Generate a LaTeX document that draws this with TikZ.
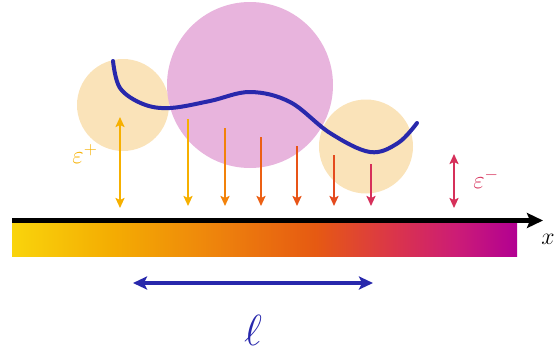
\documentclass[tikz,border=0pt]{standalone}
\usepackage{amsmath}
\usepackage{amssymb}
\usepackage{tikz}
\usepackage{xcolor}
\usetikzlibrary{arrows.meta}
\definecolor{cTan}{RGB}{250,227,185}
\definecolor{cPink}{RGB}{232,180,221}
\definecolor{cBlue}{RGB}{40,40,172}
\definecolor{cAmber}{RGB}{246,176,0}
\definecolor{cFluxA}{RGB}{246,176,0}
\definecolor{cFluxB}{RGB}{242,130,10}
\definecolor{cFluxC}{RGB}{236,96,20}
\definecolor{cFluxD}{RGB}{232,84,22}
\definecolor{cFluxE}{RGB}{228,74,30}
\definecolor{cCrimson}{RGB}{214,48,90}
% heat bar colours
\definecolor{hA}{RGB}{249,212,12}
\definecolor{hB}{RGB}{244,172,2}
\definecolor{hC}{RGB}{238,132,12}
\definecolor{hD}{RGB}{230,90,18}
\definecolor{hE}{RGB}{218,52,76}
\definecolor{hF}{RGB}{204,28,118}
\definecolor{hG}{RGB}{178,0,146}
\pgfdeclarehorizontalshading{heatbar}{100bp}{color(0bp)=(hA); color(25bp)=(hA); color(35bp)=(hB); color(45bp)=(hC); color(55bp)=(hD); color(63bp)=(hE); color(69bp)=(hF); color(75bp)=(hG); color(100bp)=(hG)}
\tikzset{
	flux/.style    ={-{Stealth[length=10pt, width=9pt, inset=2pt]}, line width=2pt},
	fluxboth/.style={{Stealth[length=10pt, width=9pt, inset=2pt]}-{Stealth[length=10pt, width=9pt, inset=2pt]}, line width=2pt},
	axisline/.style={-{Stealth[length=16pt, width=15pt, inset=3pt]}, line width=4.5pt, black},
	lenarrow/.style={{Stealth[length=14pt, width=13pt, inset=3pt]}-{Stealth[length=14pt, width=13pt, inset=3pt]}, line width=3.2pt, cBlue},
	biglabel/.style={font=\huge},
}

\begin{document}
\begin{tikzpicture}[x=1pt, y=-1pt]
	\useasboundingbox (0,0) rectangle (554,354);
	% ---------- blobs ----------
	\fill[cTan] (123,105) circle (46);
	\fill[cTan] (366,146.5) circle (47);
	\fill[cPink] (250,85) circle (83);
	% ---------- interface ----------
	\draw[cBlue, line width=4pt, line cap=round] plot[smooth, tension=0.6] coordinates {(113,61) (120,88) (143,104) (170,108) (210,101) (250,92) (290,102) (330,133) (370,152) (398,143) (417,123)};
	% ---------- bar and axis ----------
	\shade[shading=heatbar] (12,223) rectangle (517,256);
	\coordinate (xstart) at (12,220.5);
	\coordinate (xend) at (543,220.5);
	\draw[axisline] (xstart) -- (xend);
	\node[biglabel, scale=1.15] (xlab) at (548,239) {$x$};
	% ---------- fluxes ----------
	\coordinate (ep top) at (120,117);
	\coordinate (ep bot) at (120,208);
	\draw[fluxboth, cAmber] (ep top) -- (ep bot);
	\node[biglabel, text=cAmber, scale=1.2] (eplus) at (85,154) {$\varepsilon^{+}$};
	\foreach \xx/\yy/\cc [count=\i] in {188/119/cFluxA, 225/128/cFluxB, 261/137/cFluxC, 297/146/cFluxD, 334/155/cFluxE, 371/164/cCrimson} {
		\coordinate (f\i t) at (\xx,\yy);
		\coordinate (f\i b) at (\xx,206);
		\draw[flux, \cc] (f\i t) -- (f\i b);
	}
	\coordinate (em top) at (454,154);
	\coordinate (em bot) at (454,208);
	\draw[fluxboth, cCrimson] (em top) -- (em bot);
	\node[biglabel, text=cCrimson, scale=1.2] (eminus) at (486,179) {$\varepsilon^{-}$};
	% ---------- length ----------
	\coordinate (ll) at (133,283);
	\coordinate (lr) at (373,283);
	\draw[lenarrow] (ll) -- (lr);
	\node[biglabel, text=cBlue, scale=2.1] (ell) at (253,330) {$\ell$};
\end{tikzpicture}
\end{document}
